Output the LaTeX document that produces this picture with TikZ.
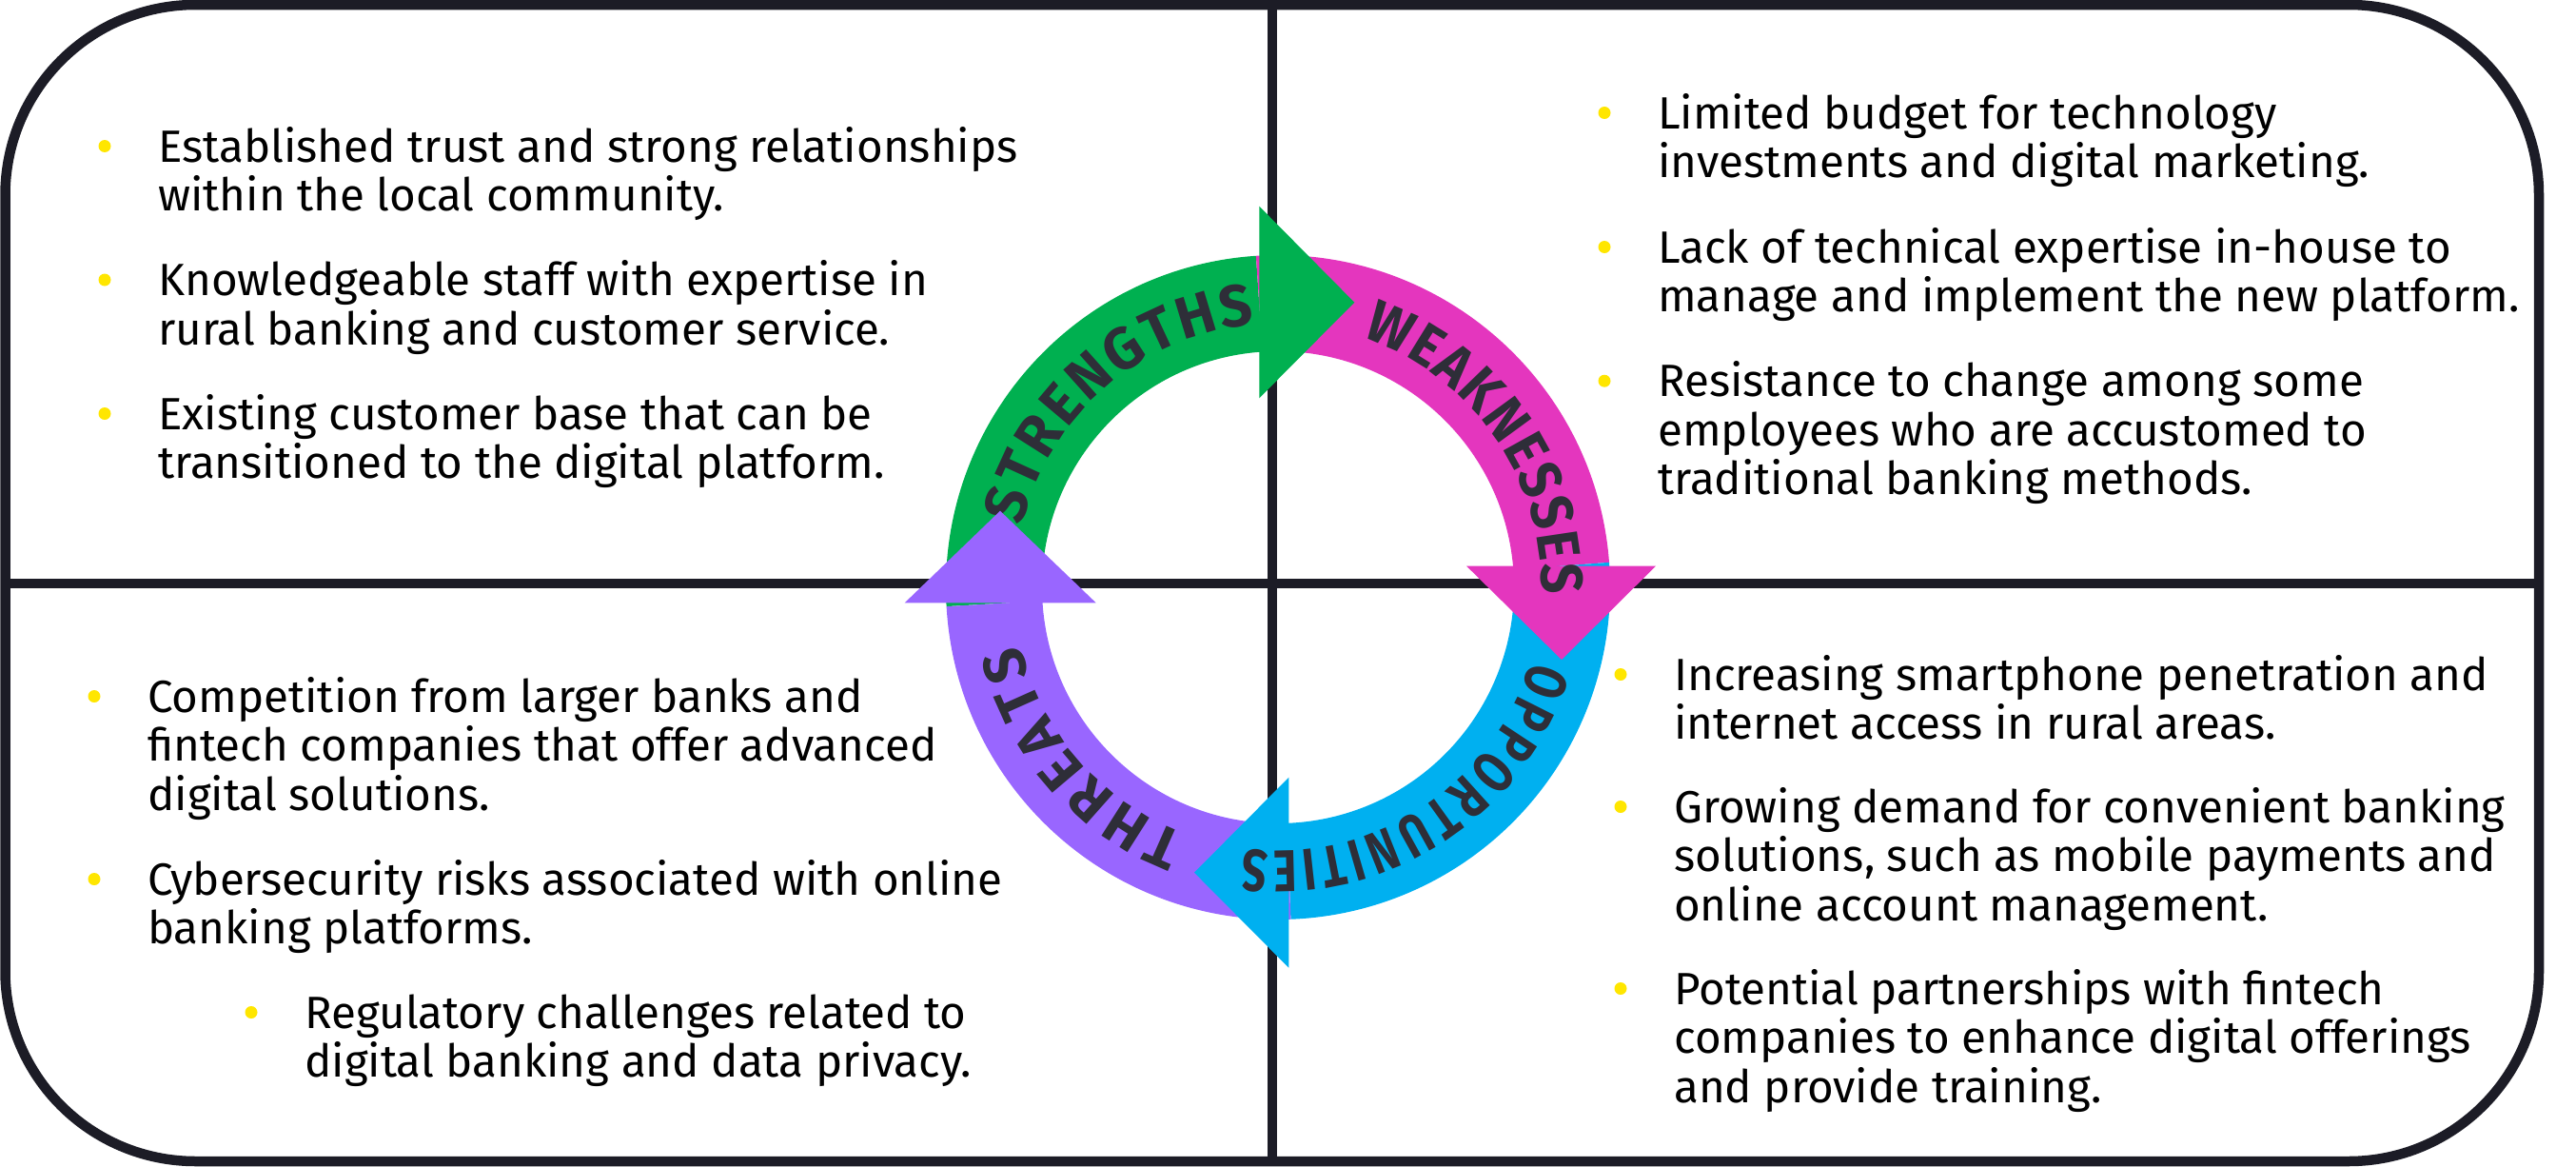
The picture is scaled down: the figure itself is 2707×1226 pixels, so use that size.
\documentclass[tikz,border=0pt]{standalone}
\usepackage{fontspec}
\setmainfont{Fira Sans}
\newfontfamily\ringfont{Fira Sans}[FakeStretch=0.97]
\newfontfamily\ringfontW{Fira Sans}[FakeStretch=0.9]
\newfontfamily\ringfontO{Fira Sans}[FakeStretch=0.75]
\usetikzlibrary{decorations.text}
\definecolor{linec}{HTML}{1C1C26}
\definecolor{gr}{HTML}{00B050}
\definecolor{pk}{HTML}{E436BE}
\definecolor{bl}{HTML}{00B0F0}
\definecolor{pu}{HTML}{9966FF}
\definecolor{lbl}{HTML}{2E2E38}
\definecolor{yel}{HTML}{FFE600}
\tikzset{
  txt/.style={font=\fontsize{47.5}{51.5}\selectfont, text=black, inner sep=0pt, anchor=base west, text height=33pt, text depth=9pt},
  dot/.style={circle, fill=yel, inner sep=0pt, minimum size=13pt},
  divider/.style={draw=linec, line width=10pt},
  ringlabel/.style={decorate, decoration={text along path, text align={fit to path}, text color=lbl}},
}
\newcommand\swotitem[4]{%
  \node[dot] (#1-b) at (#2-56,-#3+16.5) {};
  \foreach \lineTxt [count=\k from 0] in {#4}{%
    \node[txt] (#1-\k) at (#2,-#3-51.5*\k) {\lineTxt};
  }%
}
\begin{document}
\begin{tikzpicture}[x=1pt,y=1pt]
\useasboundingbox (0,0) rectangle (2707,-1226);
% dividers
\coordinate (vtop) at (1336.7,-5);
\coordinate (vbot) at (1336.7,-1220);
\coordinate (hl) at (5.5,-612.7);
\coordinate (hr) at (2668,-612.7);
\draw[divider] (vtop) -- (vbot);
\draw[divider] (hl) -- (hr);
% frame
\draw[draw=linec, line width=10.5pt, rounded corners=200pt] (5.5,-5) rectangle (2668,-1220);
% ring bands
\begin{scope}[shift={(1343,-617)}]
  \fill[gr] (183.3:349) arc[start angle=183.3, end angle=93.8, radius=349pt] -- (93.8:248) arc[start angle=93.8, end angle=183.3, radius=248pt] -- cycle;
  \fill[pk] (93.8:349) arc[start angle=93.8, end angle=4.3, radius=349pt] -- (4.3:248) arc[start angle=4.3, end angle=93.8, radius=248pt] -- cycle;
  \fill[bl] (4.3:349) arc[start angle=4.3, end angle=-87.8, radius=349pt] -- (-87.8:248) arc[start angle=-87.8, end angle=4.3, radius=248pt] -- cycle;
  \fill[pu] (-87.8:349) arc[start angle=-87.8, end angle=-176.7, radius=349pt] -- (-176.7:248) arc[start angle=-176.7, end angle=-87.8, radius=248pt] -- cycle;
\end{scope}
% heads
\fill[gr] (1323.3,-216.7) -- (1423.3,-317.7) -- (1323.3,-418.3) -- cycle;
\fill[pk] (1541,-594.6) -- (1740,-594.6) -- (1641,-693) -- cycle;
\fill[bl] (1354.3,-816.7) -- (1255,-916.7) -- (1354.3,-1016.7) -- cycle;
% ring labels
\begin{scope}[shift={(1343,-617)}]
  \path[ringlabel, decoration={text={|\ringfont\bfseries\fontsize{62}{62}\selectfont|STRENGTHS}}] (166.5:277) arc[start angle=166.5, end angle=95, radius=277pt];
  \path[ringlabel, decoration={text={|\ringfontW\bfseries\fontsize{62}{62}\selectfont|WEAKNESSES}}] (71.5:277) arc[start angle=71.5, end angle=-1.5, radius=277pt];
  \path[ringlabel, decoration={text={|\ringfontO\bfseries\fontsize{62}{62}\selectfont|OPPORTUNITIES}}] (-16.3:277) arc[start angle=-16.3, end angle=-97.5, radius=277pt];
  \path[ringlabel, decoration={text={|\ringfont\bfseries\fontsize{62}{62}\selectfont|THREATS}}] (249.5:277) arc[start angle=249.5, end angle=192.5, radius=277pt];
\end{scope}
\fill[pu] (950.7,-633.3) -- (1151.7,-633.3) -- (1051,-536.7) -- cycle;
% text blocks
\swotitem{s1}{166}{170}{Established trust and strong relationships, within the local community.}
\swotitem{s2}{166}{310.5}{Knowledgeable staff with expertise in, rural banking and customer service.}
\swotitem{s3}{166}{451}{Existing customer base that can be, transitioned to the digital platform.}
\swotitem{w1}{1742}{135}{Limited budget for technology, investments and digital marketing.}
\swotitem{w2}{1742}{276}{Lack of technical expertise in-house to, manage and implement the new platform.}
\swotitem{w3}{1742}{416.7}{Resistance to change among some, employees who are accustomed to, traditional banking methods.}
\swotitem{t1}{155}{748}{Competition from larger banks and, fintech companies that offer advanced, digital solutions.}
\swotitem{t2}{155}{940}{Cybersecurity risks associated with online, banking platforms.}
\swotitem{t3}{320}{1080}{Regulatory challenges related to, digital banking and data privacy.}
\swotitem{o1}{1759}{725}{Increasing smartphone penetration and, internet access in rural areas.}
\swotitem{o2}{1759}{864}{Growing demand for convenient banking, {solutions, such as mobile payments and}, online account management.}
\swotitem{o3}{1759}{1055}{Potential partnerships with fintech, companies to enhance digital offerings, and provide training.}
\end{tikzpicture}
\end{document}
